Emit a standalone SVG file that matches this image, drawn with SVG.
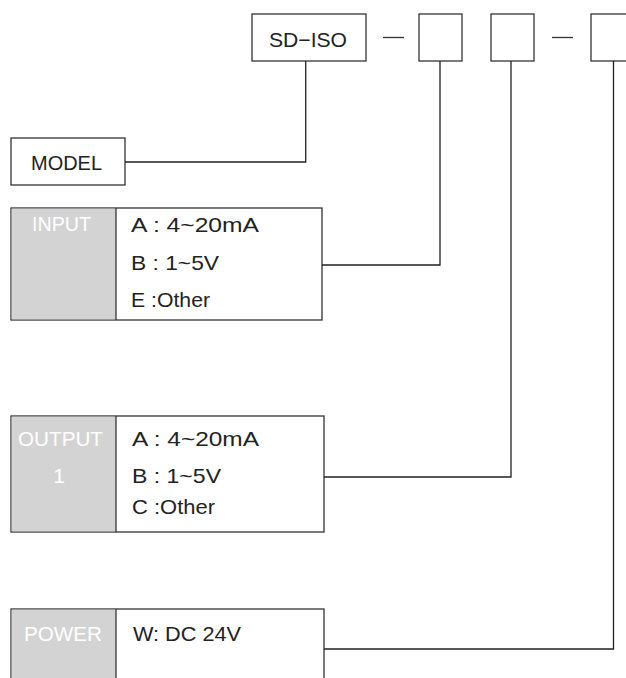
<svg xmlns="http://www.w3.org/2000/svg" width="626" height="678" viewBox="0 0 626 678">
<style>
.box{fill:#fff;stroke:#333;stroke-width:1.3}
.gray{fill:#d3d3d3;stroke:none}
.sep{stroke:#333;stroke-width:1.3}
.t{font-family:"Liberation Sans",Arial,sans-serif;font-size:21px;fill:#222}
.w{font-family:"Liberation Sans",Arial,sans-serif;font-size:21px;fill:#fff}
.con{fill:none;stroke:#222;stroke-width:1.3}
</style>
<rect width="626" height="678" fill="#fff"/>
<g id="code">
<rect class="box" x="252" y="14" width="114" height="47"/>
<text class="t" x="269" y="47" textLength="78" lengthAdjust="spacingAndGlyphs">SD−ISO</text>
<line class="sep" x1="383" y1="37.5" x2="404" y2="37.5"/>
<rect id="slot1" class="box" x="419" y="14" width="43" height="47"/>
<rect id="slot2" class="box" x="491" y="14" width="43" height="47"/>
<line class="sep" x1="552" y1="37.5" x2="573" y2="37.5"/>
<rect id="slot3" class="box" x="591" y="14" width="43" height="47"/>
</g>
<g id="model">
<rect class="box" x="11" y="138" width="114" height="47"/>
<text class="t" x="31" y="170" textLength="71" lengthAdjust="spacingAndGlyphs">MODEL</text>
</g>
<g id="input">
<rect class="box" x="11" y="208" width="311" height="112"/>
<rect class="gray" x="11.7" y="208.7" width="104.3" height="110.6"/>
<line class="sep" x1="116" y1="208" x2="116" y2="320"/>
<text class="w" x="32" y="231" textLength="59" lengthAdjust="spacingAndGlyphs">INPUT</text>
<text class="t" x="131" y="232" textLength="128" lengthAdjust="spacingAndGlyphs">A : 4~20mA</text>
<text class="t" x="131" y="270" textLength="88" lengthAdjust="spacingAndGlyphs">B : 1~5V</text>
<text class="t" x="131" y="307" textLength="79" lengthAdjust="spacingAndGlyphs">E :Other</text>
</g>
<g id="output">
<rect class="box" x="11" y="416" width="313" height="116"/>
<rect class="gray" x="11.7" y="416.7" width="104.3" height="114.6"/>
<line class="sep" x1="116" y1="416" x2="116" y2="532"/>
<text class="w" x="18" y="446" textLength="85" lengthAdjust="spacingAndGlyphs">OUTPUT</text>
<text class="w" x="59" y="483" text-anchor="middle">1</text>
<text class="t" x="132" y="446" textLength="127" lengthAdjust="spacingAndGlyphs">A : 4~20mA</text>
<text class="t" x="132" y="483" textLength="89" lengthAdjust="spacingAndGlyphs">B : 1~5V</text>
<text class="t" x="132" y="514" textLength="83" lengthAdjust="spacingAndGlyphs">C :Other</text>
</g>
<g id="power">
<rect class="box" x="11" y="609" width="313" height="90"/>
<rect class="gray" x="11.7" y="609.7" width="104.3" height="88"/>
<line class="sep" x1="116" y1="609" x2="116" y2="699"/>
<text class="w" x="24" y="641" textLength="78" lengthAdjust="spacingAndGlyphs">POWER</text>
<text class="t" x="133" y="641" textLength="108" lengthAdjust="spacingAndGlyphs">W: DC 24V</text>
</g>
<g id="connectors">
<path class="con" d="M305.7 61 V162 H125"/>
<path class="con" d="M440 61 V265 H322"/>
<path class="con" d="M511 61 V477 H324"/>
<path class="con" d="M613.5 61 V649 H324"/>
</g>
</svg>
